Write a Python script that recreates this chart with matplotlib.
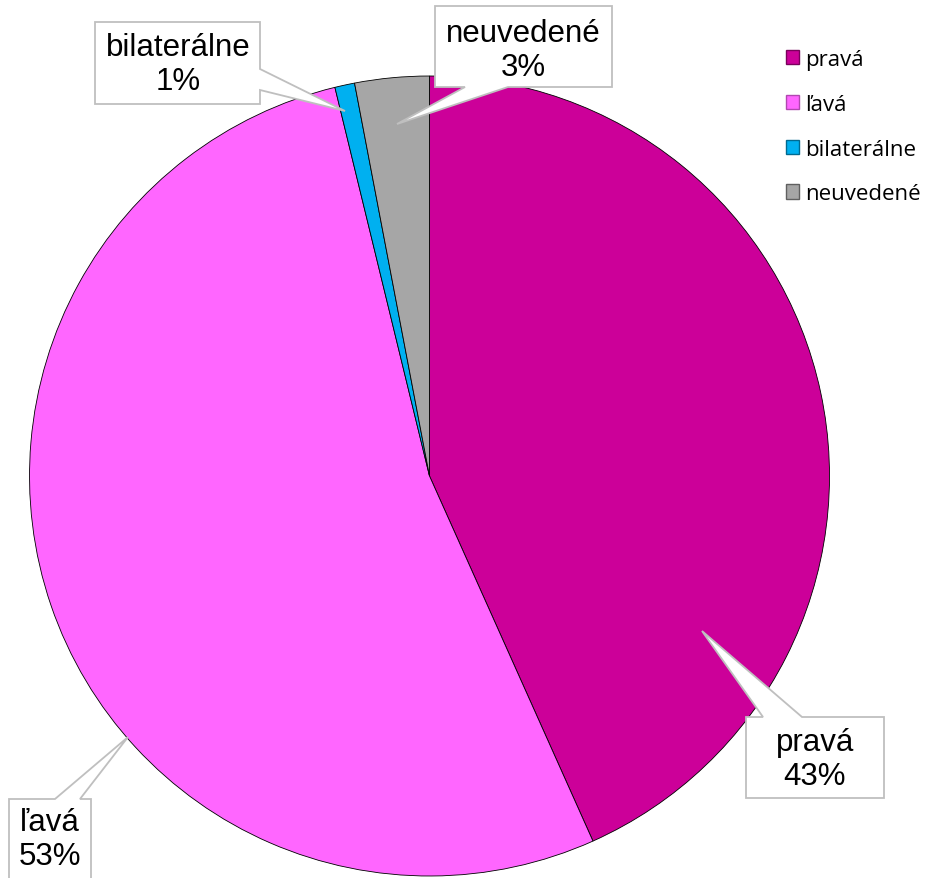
import matplotlib
matplotlib.use("Agg")
import matplotlib.pyplot as plt
from matplotlib.patches import Polygon, Rectangle

# ---- data ----
categories = ["pravá", "ľavá", "bilaterálne", "neuvedené"]
values = [43.3, 52.9, 0.8, 3.0]
pct_labels = ["43%", "53%", "1%", "3%"]
colors = ["#CC0099", "#FF66FF", "#00B0F0", "#A6A6A6"]
edge_colors = ["#7A005C", "#B048B0", "#006A90", "#606060"]

W, H = 925, 879
fig = plt.figure(figsize=(W / 100, H / 100), dpi=100)
ax = fig.add_axes([0, 0, 1, 1])
ax.set_xlim(0, W)
ax.set_ylim(0, H)
ax.axis("off")

cx, cy, R = 429.5, 477, 400
wedges, _ = ax.pie(values, colors=colors, startangle=90, counterclock=False,
                   center=(cx, H - cy), radius=R, frame=True,
                   wedgeprops=dict(edgecolor="black", linewidth=0.6))
ax.set_xlim(0, W)
ax.set_ylim(0, H)
ax.axis("off")


def callout(box, side, base, tip):
    x0, y0, x1, y1 = box
    a, b = base
    tx, ty = tip
    if side == "top":
        pts = [(x0, y0), (a, y0), (tx, ty), (b, y0), (x1, y0), (x1, y1), (x0, y1)]
    elif side == "bottom":
        pts = [(x0, y0), (x1, y0), (x1, y1), (b, y1), (tx, ty), (a, y1), (x0, y1)]
    else:  # right
        pts = [(x0, y0), (x1, y0), (x1, a), (tx, ty), (x1, b), (x1, y1), (x0, y1)]
    pts = [(px, H - py) for px, py in pts]
    ax.add_patch(Polygon(pts, closed=True, facecolor="white", edgecolor="#BFBFBF",
                         linewidth=1.3, zorder=5))


label_font = dict(family=["Liberation Sans", "DejaVu Sans"], fontsize=22.5,
                  color="black", ha="center", va="center", linespacing=1.15, zorder=6)

# pravá
callout((746, 718, 884, 799), "top", (763, 802), (702, 632))
ax.text(815, H - 760, f"{categories[0]}\n{pct_labels[0]}", **label_font)
# ľavá
callout((9, 800, 91, 900), "top", (55, 80), (128, 738))
ax.text(50, H - 840, f"{categories[1]}\n{pct_labels[1]}", **label_font)
# bilaterálne
callout((95, 23, 260, 105), "right", (70, 91), (345, 112))
ax.text(178, H - 65, f"{categories[2]}\n{pct_labels[2]}", **label_font)
# neuvedené
callout((435, 7, 612, 88), "bottom", (465, 508), (397, 125))
ax.text(523, H - 51, f"{categories[3]}\n{pct_labels[3]}", **label_font)

# legend
handles = [Rectangle((0, 0), 1, 1, facecolor=c, edgecolor=e, linewidth=1.0)
           for c, e in zip(colors, edge_colors)]
leg = ax.legend(handles, categories, loc="upper left",
                bbox_to_anchor=(786 / W, 1 - 50 / H), frameon=False,
                prop={"family": ["Open Sans", "DejaVu Sans"], "size": 16},
                handlelength=0.6, handleheight=0.6, handletextpad=0.25,
                labelspacing=1.07, borderpad=0, borderaxespad=0)
leg.set_zorder(7)

fig.savefig("out.png", dpi=100)
